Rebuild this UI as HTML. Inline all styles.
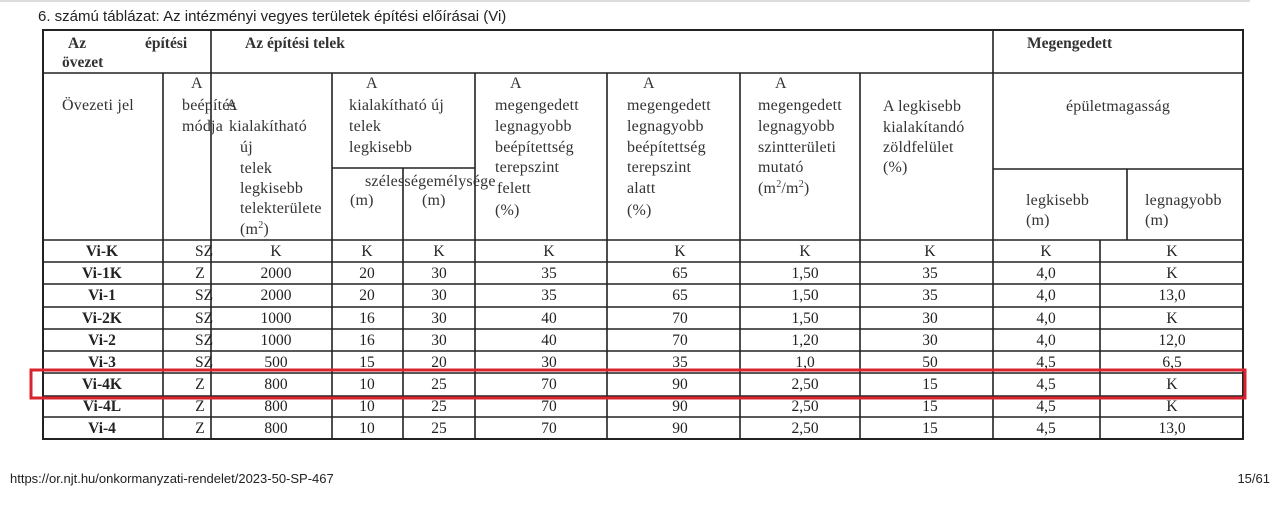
<!DOCTYPE html>
<html><head><meta charset="utf-8"><style>
html,body{margin:0;padding:0;background:#fff;width:1280px;height:510px;overflow:hidden}
svg{display:block}
.t{font-family:"Liberation Serif",serif;font-size:16px;fill:#333;letter-spacing:0.2px}
.b{font-weight:bold;font-size:15.5px;letter-spacing:0}
.d{font-family:"Liberation Serif",serif;font-size:15.5px;fill:#222;text-anchor:middle}
.s{font-family:"Liberation Sans",sans-serif;fill:#222}
</style></head><body>
<svg width="1280" height="510" viewBox="0 0 1280 510">
<line x1="0" y1="1" x2="1250" y2="1" stroke="#ddd" stroke-width="2"/>
<text class="s" x="38" y="21" font-size="15">6. számú táblázat: Az intézményi vegyes területek építési előírásai (Vi)</text>
<g stroke="#222" stroke-width="1.6" fill="none">
<rect x="43" y="30" width="1200" height="409" stroke-width="2"/>
<line x1="43" y1="73" x2="1243" y2="73"/>
<line x1="43" y1="240" x2="1243" y2="240"/>
<line x1="163" y1="73" x2="163" y2="439"/>
<line x1="211" y1="30" x2="211" y2="439"/>
<line x1="332" y1="73" x2="332" y2="439"/>
<line x1="403" y1="168" x2="403" y2="439"/>
<line x1="332" y1="168" x2="475" y2="168"/>
<line x1="475" y1="73" x2="475" y2="439"/>
<line x1="607" y1="73" x2="607" y2="439"/>
<line x1="740" y1="73" x2="740" y2="439"/>
<line x1="860" y1="73" x2="860" y2="439"/>
<line x1="993" y1="30" x2="993" y2="439"/>
<line x1="993" y1="169" x2="1243" y2="169"/>
<line x1="1127" y1="169" x2="1127" y2="240"/>
<line x1="1100" y1="240" x2="1100" y2="439"/>
<line x1="43" y1="262" x2="1243" y2="262"/>
<line x1="43" y1="284" x2="1243" y2="284"/>
<line x1="43" y1="307" x2="1243" y2="307"/>
<line x1="43" y1="329" x2="1243" y2="329"/>
<line x1="43" y1="351" x2="1243" y2="351"/>
<line x1="43" y1="373" x2="1243" y2="373"/>
<line x1="43" y1="396" x2="1243" y2="396"/>
<line x1="43" y1="417" x2="1243" y2="417"/>
</g>
<g class="t">
<text class="t b" x="68" y="48">Az</text><text class="t b" x="145" y="48">építési</text>
<text class="t b" x="62" y="67">övezet</text>
<text class="t b" x="245" y="48">Az építési telek</text>
<text class="t b" x="1027" y="48">Megengedett</text>
<text x="62" y="110">Övezeti jel</text>
<text x="191" y="88">A</text>
<text x="182" y="110">beépítés</text>
<text x="182" y="131">módja</text>
<text x="226" y="110">A</text>
<text x="229" y="131">kialakítható</text>
<text x="240" y="152">új</text>
<text x="240" y="173">telek</text>
<text x="240" y="193">legkisebb</text>
<text x="240" y="213">telekterülete</text>
<text x="240" y="234">(m<tspan font-size="10" dy="-6">2</tspan><tspan dy="6">)</tspan></text>
<text x="366" y="88">A</text>
<text x="349" y="110">kialakítható új</text>
<text x="349" y="131">telek</text>
<text x="349" y="152">legkisebb</text>
<text x="365" y="186">szélességemélysége</text>
<text x="350" y="205">(m)</text>
<text x="422" y="205">(m)</text>
<text x="510" y="88">A</text>
<text x="495" y="110">megengedett</text>
<text x="495" y="131">legnagyobb</text>
<text x="495" y="152">beépítettség</text>
<text x="495" y="172">terepszint</text>
<text x="497" y="193">felett</text>
<text x="495" y="215">(%)</text>
<text x="643" y="88">A</text>
<text x="627" y="110">megengedett</text>
<text x="627" y="131">legnagyobb</text>
<text x="627" y="152">beépítettség</text>
<text x="627" y="172">terepszint</text>
<text x="627" y="193">alatt</text>
<text x="627" y="215">(%)</text>
<text x="775" y="88">A</text>
<text x="758" y="110">megengedett</text>
<text x="758" y="131">legnagyobb</text>
<text x="758" y="152">szintterületi</text>
<text x="758" y="172">mutató</text>
<text x="758" y="193">(m<tspan font-size="10" dy="-6">2</tspan><tspan dy="6">/m</tspan><tspan font-size="10" dy="-6">2</tspan><tspan dy="6">)</tspan></text>
<text x="883" y="111">A legkisebb</text>
<text x="883" y="132">kialakítandó</text>
<text x="883" y="152">zöldfelület</text>
<text x="883" y="172">(%)</text>
<text x="1118" y="111" text-anchor="middle">épületmagasság</text>
<text x="1026" y="205">legkisebb</text>
<text x="1026" y="225">(m)</text>
<text x="1145" y="205">legnagyobb</text>
<text x="1145" y="225">(m)</text>
</g>
<g class="d">
<g transform="translate(0,256)"><text x="102" class="b">Vi-K</text><text x="204">SZ</text><text x="276">K</text><text x="367">K</text><text x="439">K</text><text x="549">K</text><text x="680">K</text><text x="805">K</text><text x="930">K</text><text x="1046">K</text><text x="1172">K</text></g>
<g transform="translate(0,278)"><text x="102" class="b">Vi-1K</text><text x="200">Z</text><text x="276">2000</text><text x="367">20</text><text x="439">30</text><text x="549">35</text><text x="680">65</text><text x="805">1,50</text><text x="930">35</text><text x="1046">4,0</text><text x="1172">K</text></g>
<g transform="translate(0,300)"><text x="102" class="b">Vi-1</text><text x="204">SZ</text><text x="276">2000</text><text x="367">20</text><text x="439">30</text><text x="549">35</text><text x="680">65</text><text x="805">1,50</text><text x="930">35</text><text x="1046">4,0</text><text x="1172">13,0</text></g>
<g transform="translate(0,323)"><text x="102" class="b">Vi-2K</text><text x="204">SZ</text><text x="276">1000</text><text x="367">16</text><text x="439">30</text><text x="549">40</text><text x="680">70</text><text x="805">1,50</text><text x="930">30</text><text x="1046">4,0</text><text x="1172">K</text></g>
<g transform="translate(0,345)"><text x="102" class="b">Vi-2</text><text x="204">SZ</text><text x="276">1000</text><text x="367">16</text><text x="439">30</text><text x="549">40</text><text x="680">70</text><text x="805">1,20</text><text x="930">30</text><text x="1046">4,0</text><text x="1172">12,0</text></g>
<g transform="translate(0,367)"><text x="102" class="b">Vi-3</text><text x="204">SZ</text><text x="276">500</text><text x="367">15</text><text x="439">20</text><text x="549">30</text><text x="680">35</text><text x="805">1,0</text><text x="930">50</text><text x="1046">4,5</text><text x="1172">6,5</text></g>
<g transform="translate(0,389)"><text x="102" class="b">Vi-4K</text><text x="200">Z</text><text x="276">800</text><text x="367">10</text><text x="439">25</text><text x="549">70</text><text x="680">90</text><text x="805">2,50</text><text x="930">15</text><text x="1046">4,5</text><text x="1172">K</text></g>
<g transform="translate(0,411)"><text x="102" class="b">Vi-4L</text><text x="200">Z</text><text x="276">800</text><text x="367">10</text><text x="439">25</text><text x="549">70</text><text x="680">90</text><text x="805">2,50</text><text x="930">15</text><text x="1046">4,5</text><text x="1172">K</text></g>
<g transform="translate(0,433)"><text x="102" class="b">Vi-4</text><text x="200">Z</text><text x="276">800</text><text x="367">10</text><text x="439">25</text><text x="549">70</text><text x="680">90</text><text x="805">2,50</text><text x="930">15</text><text x="1046">4,5</text><text x="1172">13,0</text></g>
</g>
<rect x="31" y="370" width="1214" height="28" fill="none" stroke="#d9232e" stroke-width="3"/>
<text class="s" x="10" y="483" font-size="13">https://or.njt.hu/onkormanyzati-rendelet/2023-50-SP-467</text>
<text class="s" x="1270" y="483" font-size="13" text-anchor="end">15/61</text>
</svg>
</body></html>
